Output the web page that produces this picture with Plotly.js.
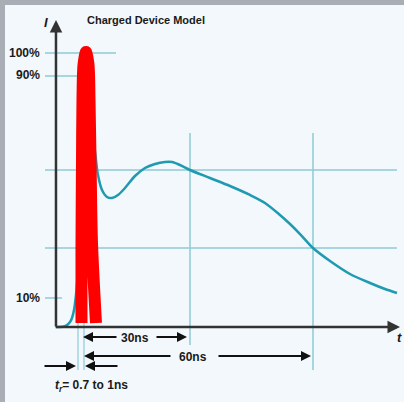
<!DOCTYPE html>
<html>
<head>
<meta charset="utf-8">
<script src="https://cdn.plot.ly/plotly-3.0.1.min.js"></script>
<style>html,body{margin:0;padding:0;background:#a9adb5;}#chart{width:404px;height:402px;}</style>
</head>
<body>
<div id="chart"></div>
<script>
// Time in ns (0 = start of rise), current in % of peak
const curveT = [-7.30,-6.22,-5.14,-4.32,-3.51,-2.97,-2.43,-1.89,-1.35,-0.81,-0.27,0.27,0.81,1.35,1.89,2.43,2.70,3.51,4.05,5.14,6.49,7.84,9.46,11.35,14.05,16.76,19.46,22.16,24.05,26.22,28.92,34.32,39.73,45.14,49.19,53.24,55.95,58.65,62.16,66.76,72.16,77.57,81.62,84.86];
const curveI = [0,0,0.18,0.73,1.82,3.28,6.20,11.68,20.80,35.40,57.30,82.85,97.45,99.27,96.72,82.85,71.90,60.95,55.47,49.99,47.45,47.08,48.18,50.73,55.11,58.03,59.49,60.22,60.22,59.12,57.30,54.38,51.46,48.18,45.26,40.88,37.59,33.94,28.83,24.09,19.34,16.06,13.87,12.41];
// Red overlay stroke
const redT = [-0.41,-0.41,-0.27,-0.14,0.14,0.81,1.49,1.76,2.03,2.43,3.51];
const redI = [1.46,28.10,60.95,82.85,95.62,100.36,95.62,82.85,60.95,30.66,1.46];
// Reference levels
const levelLabels = ["100%","90%","10%"];
const levelValues = [100,91.6,10.6];
const gridLevels = [57.3,28.83];
const gridTimes = [28.92,62.16];
const riseTimes = [-1.35,0.27];
const dimLabels = ["30ns","60ns"];
const titleText = "Charged Device Model";

const grid = '#8fcbd5';
const shapes = [];
shapes.push({type:'line',x0:-10.27,x1:8.92,y0:levelValues[0],y1:levelValues[0],line:{color:grid,width:1.5},layer:'below'});
shapes.push({type:'line',x0:-10.27,x1:1.35,y0:levelValues[1],y1:levelValues[1],line:{color:grid,width:1.5},layer:'below'});
shapes.push({type:'line',x0:-10.27,x1:-5.68,y0:levelValues[2],y1:levelValues[2],line:{color:grid,width:1.5},layer:'below'});
gridLevels.forEach(v=>shapes.push({type:'line',x0:-10.27,x1:84.86,y0:v,y1:v,line:{color:grid,width:1.5},layer:'below'}));
shapes.push({type:'line',x0:gridTimes[0],x1:gridTimes[0],y0:70.8,y1:-6.57,line:{color:grid,width:1.5},layer:'below'});
shapes.push({type:'line',x0:gridTimes[1],x1:gridTimes[1],y0:70.8,y1:-15.69,line:{color:grid,width:1.5},layer:'below'});
riseTimes.forEach(v=>shapes.push({type:'line',x0:v,x1:v,y0:4.38,y1:-15.69,line:{color:grid,width:1.2},layer:'below'}));

const dark = '#333333';
const fontB = {family:'"Liberation Sans Narrow", "Arial Narrow", sans-serif', size:12, color:'#1a1a1a', weight:'bold'};
function arrow(xh,yh,xt,yt,w,col){
  return {x:xh,y:yh,ax:xt,ay:yt,xref:'x',yref:'y',axref:'x',ayref:'y',text:'',showarrow:true,arrowhead:2,arrowsize:1,arrowwidth:w,arrowcolor:col,standoff:0,startstandoff:0};
}
const ann = [
  arrow(-7.30,112.04,-7.30,-0.4,2.5,dark),
  arrow(85.68,0,-7.8,0,2.5,dark),
  arrow(0,-3.65,9.46,-3.65,2,'#111'),
  arrow(28.11,-3.65,19.46,-3.65,2,'#111'),
  arrow(0.27,-10.58,24.05,-10.58,2,'#111'),
  arrow(61.62,-10.58,36.22,-10.58,2,'#111'),
  arrow(-1.89,-14.23,-10.81,-14.23,2,'#111'),
  arrow(0.54,-14.23,9.73,-14.23,2,'#111'),
  {x:0.54,y:112.04,xref:'x',yref:'y',text:titleText,showarrow:false,xanchor:'left',yanchor:'middle',font:Object.assign({},fontB,{size:11})},
  {x:-11.08,y:levelValues[0],xref:'x',yref:'y',text:levelLabels[0],showarrow:false,xanchor:'right',yanchor:'middle',font:fontB},
  {x:-11.08,y:levelValues[1]+0.4,xref:'x',yref:'y',text:levelLabels[1],showarrow:false,xanchor:'right',yanchor:'middle',font:fontB},
  {x:-11.08,y:levelValues[2],xref:'x',yref:'y',text:levelLabels[2],showarrow:false,xanchor:'right',yanchor:'middle',font:fontB},
  {x:14.05,y:-4.01,xref:'x',yref:'y',text:dimLabels[0],showarrow:false,xanchor:'center',yanchor:'middle',font:fontB},
  {x:29.73,y:-10.95,xref:'x',yref:'y',text:dimLabels[1],showarrow:false,xanchor:'center',yanchor:'middle',font:fontB},
  {x:2.43,y:-21.53,xref:'x',yref:'y',text:'<i>t<sub>r</sub></i>= 0.7 to 1ns',showarrow:false,xanchor:'center',yanchor:'middle',font:fontB},
  {x:-10.0,y:111.31,xref:'x',yref:'y',text:'<i>I</i>',showarrow:false,xanchor:'center',yanchor:'middle',font:Object.assign({},fontB,{size:13})},
  {x:85.41,y:-3.65,xref:'x',yref:'y',text:'<i>t</i>',showarrow:false,xanchor:'center',yanchor:'middle',font:Object.assign({},fontB,{size:13})}
];

const traces = [
  {x:curveT,y:curveI,mode:'lines',line:{color:'#1f9ab0',width:2.5,shape:'spline',smoothing:0.8},hoverinfo:'skip'},
  {x:redT,y:redI,mode:'lines',line:{color:'#ff0000',width:12,shape:'spline',smoothing:0.8},hoverinfo:'skip'}
];
const layout = {
  width:404,height:402,
  margin:{l:5,t:5,r:0,b:0},
  paper_bgcolor:'#a9adb5',plot_bgcolor:'#f2f8fb',
  showlegend:false,
  xaxis:{range:[-21.08,86.76],visible:false,fixedrange:true},
  yaxis:{range:[-27.37,117.52],visible:false,fixedrange:true},
  shapes:shapes,annotations:ann
};
Plotly.newPlot('chart',traces,layout,{displayModeBar:false,staticPlot:true});
</script>
</body>
</html>
